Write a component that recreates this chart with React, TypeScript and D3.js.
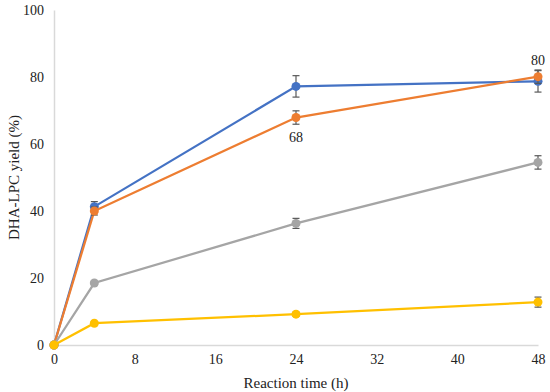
import { useEffect, useRef } from 'react'
import * as d3 from 'd3'

const hours = [0, 4, 24, 48]
const xTicks = [0, 8, 16, 24, 32, 40, 48]
const yTicks = [0, 20, 40, 60, 80, 100]

const blueVals = [0, 41.3, 77.2, 78.7]
const blueErr = [0, 1.5, 3.2, 3.2]
const orangeVals = [0, 40.0, 67.9, 80.1]
const orangeErr = [0, 1.2, 2.0, 2.0]
const grayVals = [0, 18.5, 36.3, 54.5]
const grayErr = [0, 0.5, 1.5, 2.0]
const yellowVals = [0, 6.5, 9.2, 12.8]
const yellowErr = [0, 0.4, 0.6, 1.5]

const SERIES = [
  { name: 'blue', color: '#4472C4', vals: blueVals, err: blueErr },
  { name: 'orange', color: '#ED7D31', vals: orangeVals, err: orangeErr },
  { name: 'gray', color: '#A5A5A5', vals: grayVals, err: grayErr },
  { name: 'yellow', color: '#FFC000', vals: yellowVals, err: yellowErr },
]

// data labels on the orange series
const labels = [
  { i: 2, text: '68', dy: 24 },
  { i: 3, text: '80', dy: -12 },
]

const FONT = "'Liberation Serif', 'Times New Roman', serif"

export default function App() {
  const svgRef = useRef<SVGSVGElement>(null)

  useEffect(() => {
    if (!svgRef.current) return
    const svg = d3.select(svgRef.current)
    svg.selectAll('*').remove()

    const W = 550
    const H = 392
    const margin = { top: 10, right: 12, bottom: 47, left: 54 }
    const iW = W - margin.left - margin.right
    const iH = H - margin.top - margin.bottom

    svg.attr('width', W).attr('height', H).style('font-family', FONT)
    svg.append('rect').attr('width', W).attr('height', H).attr('fill', '#fff')

    const g = svg.append('g').attr('transform', `translate(${margin.left},${margin.top})`)

    const x = d3.scaleLinear().domain([0, 48]).range([0, iW])
    const y = d3.scaleLinear().domain([0, 100]).range([iH, 0])

    // Axes
    g.append('g').attr('transform', `translate(0,${iH})`)
      .call(d3.axisBottom(x).tickValues(xTicks).tickSize(0).tickPadding(9))
      .call(sel => {
        sel.attr('font-family', null)
        sel.select('.domain').attr('stroke', '#d9d9d9').attr('stroke-width', 1.5)
        sel.selectAll('text').attr('font-size', 14).attr('fill', '#222').style('font-family', FONT)
      })

    g.append('g')
      .call(d3.axisLeft(y).tickValues(yTicks).tickSize(0).tickPadding(10))
      .call(sel => {
        sel.attr('font-family', null)
        sel.select('.domain').attr('stroke', '#d9d9d9').attr('stroke-width', 1.5)
        sel.selectAll('text').attr('font-size', 14).attr('fill', '#222').style('font-family', FONT)
      })

    // Axis titles
    g.append('text')
      .attr('x', iW / 2).attr('y', iH + 43)
      .attr('text-anchor', 'middle').attr('font-size', 15).attr('fill', '#222')
      .style('font-family', FONT)
      .text('Reaction time (h)')

    g.append('text')
      .attr('transform', 'rotate(-90)')
      .attr('x', -iH / 2).attr('y', -35)
      .attr('text-anchor', 'middle').attr('font-size', 15).attr('fill', '#222')
      .style('font-family', FONT)
      .text('DHA-LPC yield (%)')

    const line = d3.line<number>()
      .x((_, i) => x(hours[i]))
      .y(d => y(d))

    SERIES.forEach(s => {
      const sg = g.append('g')
      sg.append('path')
        .datum(s.vals)
        .attr('d', line)
        .attr('fill', 'none')
        .attr('stroke', s.color)
        .attr('stroke-width', 2.25)

      // error bars
      s.vals.forEach((v, i) => {
        if (!s.err[i]) return
        const cx = x(hours[i])
        const y1 = y(v + s.err[i])
        const y2 = y(v - s.err[i])
        sg.append('line').attr('x1', cx).attr('x2', cx).attr('y1', y1).attr('y2', y2)
          .attr('stroke', '#595959').attr('stroke-width', 1.2)
        ;[y1, y2].forEach(yy => {
          sg.append('line').attr('x1', cx - 3.5).attr('x2', cx + 3.5).attr('y1', yy).attr('y2', yy)
            .attr('stroke', '#595959').attr('stroke-width', 1.2)
        })
      })

      sg.selectAll('circle')
        .data(s.vals)
        .join('circle')
        .attr('cx', (_, i) => x(hours[i]))
        .attr('cy', d => y(d))
        .attr('r', 4.5)
        .attr('fill', s.color)
    })

    labels.forEach(l => {
      g.append('text')
        .attr('x', x(hours[l.i])).attr('y', y(orangeVals[l.i]) + l.dy)
        .attr('text-anchor', 'middle').attr('font-size', 14).attr('fill', '#222')
        .style('font-family', FONT)
        .text(l.text)
    })
  }, [])

  return <svg ref={svgRef} style={{ display: 'block', position: 'absolute', left: 0, top: 0 }} />
}
